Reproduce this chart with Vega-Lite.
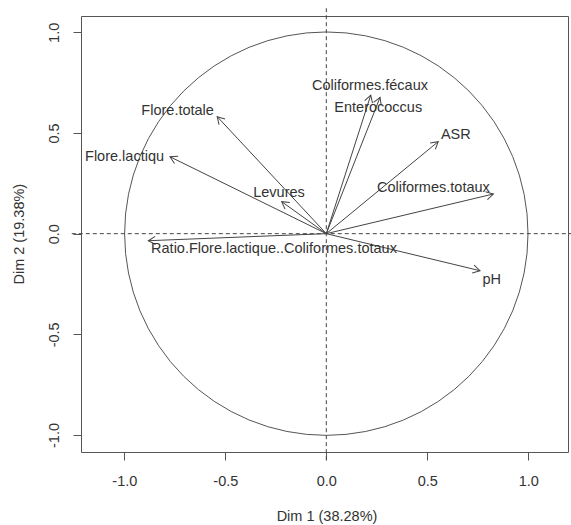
{
  "$schema": "https://vega.github.io/schema/vega-lite/v6.json",
  "width": 487,
  "height": 436,
  "autosize": "none",
  "padding": {"left": 81, "top": 16, "right": 3, "bottom": 73},
  "config": {
    "view": {"stroke": "#555", "strokeWidth": 1},
    "font": "Liberation Sans",
    "axis": {
      "domain": false,
      "grid": false,
      "ticks": true,
      "tickSize": 8,
      "tickColor": "#555",
      "labelFont": "Liberation Sans",
      "labelFontSize": 14.5,
      "labelColor": "#333",
      "titleFont": "Liberation Sans",
      "titleFontSize": 14.5,
      "titleFontWeight": "normal",
      "titleColor": "#333"
    }
  },
  "datasets": {
    "vars": [
      {"name": "Coliformes.fécaux", "x": 0.220, "y": 0.688, "lx": 0.216, "ly": 0.733},
      {"name": "Enterococcus", "x": 0.266, "y": 0.677, "lx": 0.257, "ly": 0.623},
      {"name": "ASR", "x": 0.554, "y": 0.457, "lx": 0.641, "ly": 0.490},
      {"name": "Coliformes.totaux", "x": 0.827, "y": 0.197, "lx": 0.530, "ly": 0.228},
      {"name": "pH", "x": 0.761, "y": -0.184, "lx": 0.819, "ly": -0.230},
      {"name": "Ratio.Flore.lactique..Coliformes.totaux", "x": -0.881, "y": -0.035, "lx": -0.259, "ly": -0.076},
      {"name": "Flore.totale", "x": -0.540, "y": 0.581, "lx": -0.736, "ly": 0.609},
      {"name": "Flore.lactiqu", "x": -0.774, "y": 0.382, "lx": -0.999, "ly": 0.381},
      {"name": "Levures", "x": -0.221, "y": 0.159, "lx": -0.234, "ly": 0.203}
    ]
  },
  "layer": [
    {
      "data": {"name": "vars"},
      "mark": {"type": "rule", "color": "#444", "strokeWidth": 1},
      "encoding": {
        "x": {
          "field": "x", "type": "quantitative",
          "scale": {"domain": [-1.2144, 1.1965], "nice": false, "zero": false},
          "axis": {
            "title": "Dim 1 (38.28%)",
            "values": [-1, -0.5, 0, 0.5, 1],
            "labelExpr": "datum.value < 0 ? '-' + format(-datum.value, '.1f') : format(datum.value, '.1f')",
            "labelBaseline": "alphabetic",
            "labelPadding": 25.5,
            "titleBaseline": "alphabetic",
            "titleX": 245.5,
            "titleY": 68.3
          }
        },
        "y": {
          "field": "y", "type": "quantitative",
          "scale": {"domain": [-1.0844, 1.081], "nice": false, "zero": false},
          "axis": {
            "title": "Dim 2 (19.38%)",
            "values": [-1, -0.5, 0, 0.5, 1],
            "labelExpr": "datum.value < 0 ? '-' + format(-datum.value, '.1f') : format(datum.value, '.1f')",
            "labelAngle": -90,
            "labelAlign": "center",
            "labelBaseline": "alphabetic",
            "labelPadding": 14.7,
            "titleAngle": -90,
            "titleBaseline": "alphabetic",
            "titleX": -57.5,
            "titleY": 217.7
          }
        },
        "x2": {"datum": 0},
        "y2": {"datum": 0}
      }
    },
    {
      "data": {"values": [{"ref": "circle"}]},
      "mark": {"type": "point", "shape": "circle", "size": 162730, "filled": false, "stroke": "#555", "strokeWidth": 1, "opacity": 1},
      "encoding": {
        "x": {"datum": 0, "type": "quantitative"},
        "y": {"datum": 0, "type": "quantitative"}
      }
    },
    {
      "data": {"values": [{"ref": "h"}]},
      "mark": {"type": "rule", "color": "#444", "strokeWidth": 1, "strokeDash": [4, 3]},
      "encoding": {
        "x": {"datum": -1.26, "type": "quantitative"},
        "x2": {"datum": 1.3},
        "y": {"datum": 0, "type": "quantitative"}
      }
    },
    {
      "data": {"values": [{"ref": "v"}]},
      "mark": {"type": "rule", "color": "#444", "strokeWidth": 1, "strokeDash": [4, 3]},
      "encoding": {
        "x": {"datum": 0, "type": "quantitative"},
        "y": {"datum": -1.125, "type": "quantitative"},
        "y2": {"datum": 1.125}
      }
    },
    {
      "data": {"name": "vars"},
      "transform": [{"calculate": "atan2(-datum.y, datum.x) * 180 / PI", "as": "ang"}],
      "mark": {"type": "point", "shape": "M-1,-0.577L0,0L-1,0.577", "size": 200, "filled": false, "stroke": "#444", "strokeWidth": 1, "opacity": 1},
      "encoding": {
        "x": {"field": "x", "type": "quantitative"},
        "y": {"field": "y", "type": "quantitative"},
        "angle": {"field": "ang", "type": "quantitative", "scale": null}
      }
    },
    {
      "data": {"name": "vars"},
      "mark": {"type": "text", "font": "Liberation Sans", "fontSize": 14.5, "color": "#333", "align": "center", "baseline": "middle"},
      "encoding": {
        "x": {"field": "lx", "type": "quantitative"},
        "y": {"field": "ly", "type": "quantitative"},
        "text": {"field": "name", "type": "nominal"}
      }
    }
  ]
}
